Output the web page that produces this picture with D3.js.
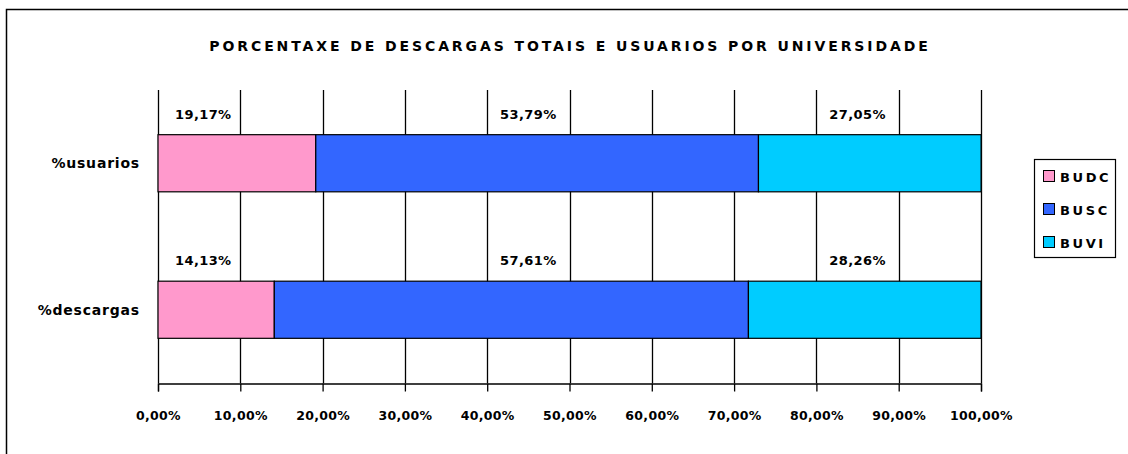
<!DOCTYPE html>
<html><head><meta charset="utf-8">
<script src="https://cdn.jsdelivr.net/npm/d3@7"></script>
<style>body{margin:0;background:#fff}svg{display:block}text{font-family:"DejaVu Sans",Verdana,sans-serif;font-weight:bold;fill:#000}</style>
</head><body><svg id="c" width="1128" height="454"></svg>
<script>
const title = "PORCENTAXE DE DESCARGAS TOTAIS E USUARIOS POR UNIVERSIDADE";
const categories = ["%usuarios", "%descargas"];
const seriesNames = ["BUDC", "BUSC", "BUVI"];
const BUDC = [19.17, 14.13];
const BUSC = [53.79, 57.61];
const BUVI = [27.05, 28.26];
const tickValues = [0,10,20,30,40,50,60,70,80,90,100];
const colors = ["#FF99CC", "#3366FF", "#00CCFF"];

const svg = d3.select("#c");
svg.append("rect").attr("x",6.5).attr("y",9.5).attr("width",1140).attr("height",460)
  .attr("fill","#fff").attr("stroke","#000").attr("stroke-width",1.5);

svg.append("text").attr("x",570).attr("y",51).attr("text-anchor","middle")
  .style("font-size","14px").style("letter-spacing","2.9px").text(title);

const x = d3.scaleLinear().domain([0,100]).range([158,981]);
const y = d3.scaleBand().domain(categories).range([90,383]).paddingInner(0).paddingOuter(0);
const barH = y.bandwidth()*0.39;
const fmt = v => d3.format(".2f")(v).replace(".", ",") + "%";

// gridlines
svg.append("g").selectAll("line").data(tickValues).join("line")
  .attr("x1",d=>Math.round(x(d))+0.5).attr("x2",d=>Math.round(x(d))+0.5)
  .attr("y1",90).attr("y2",383).attr("stroke","#000").attr("stroke-width",1.3);

// axis
const ax = svg.append("g").attr("transform","translate(0,383.5)")
  .call(d3.axisBottom(x).tickValues(tickValues).tickSize(8).tickSizeOuter(8).tickPadding(20).tickFormat(d=>fmt(d)));
ax.select(".domain").attr("stroke","#000").attr("stroke-width",1.3);
ax.selectAll(".tick line").attr("stroke-width",1.3);
ax.selectAll("text").style("font-size","12.5px").attr("font-family",null).attr("font-weight","bold").style("letter-spacing","0.3px");

// stacked bars
const rows = categories.map((c,i)=>({cat:c, vals:[BUDC[i],BUSC[i],BUVI[i]]}));
const labelAt = [5.5, 45, 85];
rows.forEach(r=>{
  let acc = 0;
  const y0 = y(r.cat) + (y.bandwidth()-barH)/2;
  r.vals.forEach((v,j)=>{
    svg.append("rect").attr("x",x(acc)).attr("y",y0).attr("width",x(acc+v)-x(acc)).attr("height",barH)
      .attr("fill",colors[j]).attr("stroke","#000").attr("stroke-width",1.2);
    svg.append("text").attr("x",x(labelAt[j])).attr("y",y0-16).attr("text-anchor","middle")
      .style("font-size","13px").style("letter-spacing","0.4px").text(fmt(v));
    acc += v;
  });
  svg.append("text").attr("x",140).attr("y",y(r.cat)+y.bandwidth()/2+5).attr("text-anchor","end")
    .style("font-size","14px").style("letter-spacing","0.8px").text(r.cat);
});

// legend
const lg = svg.append("g");
lg.append("rect").attr("x",1034.5).attr("y",159.5).attr("width",81).attr("height",98)
  .attr("fill","#fff").attr("stroke","#000").attr("stroke-width",1.2);
seriesNames.forEach((s,i)=>{
  const cy = 177 + i*33;
  lg.append("rect").attr("x",1043.5).attr("y",cy-6.5).attr("width",11).attr("height",11)
    .attr("fill",colors[i]).attr("stroke","#000");
  lg.append("text").attr("x",1060).attr("y",cy+5).style("font-size","13px").style("letter-spacing","2.6px").text(s);
});
</script></body></html>
